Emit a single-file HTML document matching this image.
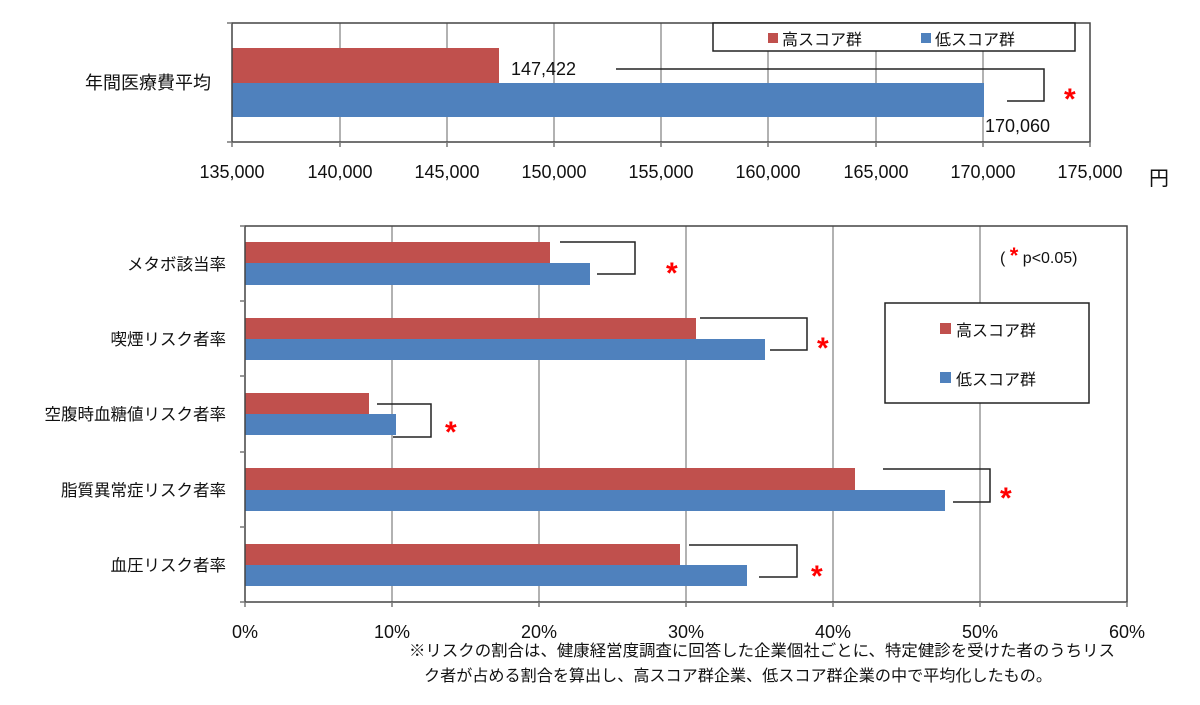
<!DOCTYPE html>
<html><head><meta charset="utf-8"><style>
body{margin:0;background:#fff;}
text{font-family:"Liberation Sans","Noto Sans CJK JP",sans-serif;fill:#111;}
.st{fill:#f00;font-weight:bold;}
</style></head><body>
<svg width="1200" height="700" viewBox="0 0 1200 700" xmlns="http://www.w3.org/2000/svg">
<!-- TOP CHART -->
<g stroke="#999" stroke-width="1.5">
<line x1="340" y1="23" x2="340" y2="142"/><line x1="447" y1="23" x2="447" y2="142"/><line x1="554" y1="23" x2="554" y2="142"/>
<line x1="661" y1="23" x2="661" y2="142"/><line x1="768" y1="23" x2="768" y2="142"/><line x1="876" y1="23" x2="876" y2="142"/><line x1="983" y1="23" x2="983" y2="142"/>
</g>
<rect x="232" y="48" width="267" height="35" fill="#c0504d"/>
<rect x="232" y="83" width="752" height="34" fill="#4f81bd"/>
<rect x="232" y="23" width="858" height="119" fill="none" stroke="#444" stroke-width="1.5"/>
<g stroke="#777" stroke-width="1.5">
<line x1="227" y1="23" x2="232" y2="23"/><line x1="227" y1="142" x2="232" y2="142"/>
<line x1="232" y1="142" x2="232" y2="147"/><line x1="340" y1="142" x2="340" y2="147"/><line x1="447" y1="142" x2="447" y2="147"/><line x1="554" y1="142" x2="554" y2="147"/><line x1="661" y1="142" x2="661" y2="147"/><line x1="768" y1="142" x2="768" y2="147"/><line x1="876" y1="142" x2="876" y2="147"/><line x1="983" y1="142" x2="983" y2="147"/><line x1="1090" y1="142" x2="1090" y2="147"/>
</g>
<rect x="713" y="23" width="362" height="28" fill="#fff" stroke="#222" stroke-width="1.5"/>
<rect x="768" y="33" width="10" height="10" fill="#c0504d"/><text x="782" y="45" font-size="16">高スコア群</text>
<rect x="921" y="33" width="10" height="10" fill="#4f81bd"/><text x="935" y="45" font-size="16">低スコア群</text>
<polyline points="616,69 1044,69 1044,101 1007,101" fill="none" stroke="#222" stroke-width="1.5"/>
<text x="1064" y="109" font-size="30" class="st">*</text>
<text x="511" y="75" font-size="18">147,422</text>
<text x="985" y="132" font-size="18">170,060</text>
<text x="211" y="89" font-size="18" text-anchor="end">年間医療費平均</text>
<g font-size="18" text-anchor="middle">
<text x="232" y="178">135,000</text><text x="340" y="178">140,000</text><text x="447" y="178">145,000</text><text x="554" y="178">150,000</text><text x="661" y="178">155,000</text><text x="768" y="178">160,000</text><text x="876" y="178">165,000</text><text x="983" y="178">170,000</text><text x="1090" y="178">175,000</text>
</g>
<text x="1149" y="185" font-size="20">円</text>

<!-- BOTTOM CHART -->
<g stroke="#999" stroke-width="1.5">
<line x1="392" y1="226" x2="392" y2="602"/><line x1="539" y1="226" x2="539" y2="602"/><line x1="686" y1="226" x2="686" y2="602"/><line x1="833" y1="226" x2="833" y2="602"/><line x1="980" y1="226" x2="980" y2="602"/>
</g>
<g>
<rect x="245" y="242" width="305" height="21" fill="#c0504d"/><rect x="245" y="263" width="345" height="22" fill="#4f81bd"/>
<rect x="245" y="318" width="451" height="21" fill="#c0504d"/><rect x="245" y="339" width="520" height="21" fill="#4f81bd"/>
<rect x="245" y="393" width="124" height="21" fill="#c0504d"/><rect x="245" y="414" width="151" height="21" fill="#4f81bd"/>
<rect x="245" y="468" width="610" height="22" fill="#c0504d"/><rect x="245" y="490" width="700" height="21" fill="#4f81bd"/>
<rect x="245" y="544" width="435" height="21" fill="#c0504d"/><rect x="245" y="565" width="502" height="21" fill="#4f81bd"/>
</g>
<rect x="245" y="226" width="882" height="376" fill="none" stroke="#444" stroke-width="1.5"/>
<g stroke="#777" stroke-width="1.5">
<line x1="240" y1="226" x2="245" y2="226"/><line x1="240" y1="301" x2="245" y2="301"/><line x1="240" y1="376" x2="245" y2="376"/><line x1="240" y1="452" x2="245" y2="452"/><line x1="240" y1="527" x2="245" y2="527"/><line x1="240" y1="602" x2="245" y2="602"/>
<line x1="245" y1="602" x2="245" y2="607"/><line x1="392" y1="602" x2="392" y2="607"/><line x1="539" y1="602" x2="539" y2="607"/><line x1="686" y1="602" x2="686" y2="607"/><line x1="833" y1="602" x2="833" y2="607"/><line x1="980" y1="602" x2="980" y2="607"/><line x1="1127" y1="602" x2="1127" y2="607"/>
</g>
<g fill="none" stroke="#222" stroke-width="1.5">
<polyline points="560,242 635,242 635,274 597,274"/>
<polyline points="700,318 807,318 807,350 770,350"/>
<polyline points="377,404 431,404 431,437 393,437"/>
<polyline points="883,469 990,469 990,502 953,502"/>
<polyline points="689,545 797,545 797,577 759,577"/>
</g>
<g font-size="30">
<text x="666" y="283" class="st">*</text>
<text x="817" y="358" class="st">*</text>
<text x="445" y="442" class="st">*</text>
<text x="1000" y="508" class="st">*</text>
<text x="811" y="586" class="st">*</text>
</g>
<text x="1000" y="263" font-size="16">( <tspan class="st" font-size="22">*</tspan> p&lt;0.05)</text>
<rect x="885" y="303" width="204" height="100" fill="#fff" stroke="#222" stroke-width="1.5"/>
<rect x="940" y="323" width="11" height="11" fill="#c0504d"/><text x="956" y="336" font-size="16">高スコア群</text>
<rect x="940" y="372" width="11" height="11" fill="#4f81bd"/><text x="956" y="385" font-size="16">低スコア群</text>
<g font-size="16.5" text-anchor="end">
<text x="226" y="270">メタボ該当率</text>
<text x="226" y="345">喫煙リスク者率</text>
<text x="226" y="420">空腹時血糖値リスク者率</text>
<text x="226" y="496">脂質異常症リスク者率</text>
<text x="226" y="571">血圧リスク者率</text>
</g>
<g font-size="18" text-anchor="middle">
<text x="245" y="638">0%</text><text x="392" y="638">10%</text><text x="539" y="638">20%</text><text x="686" y="638">30%</text><text x="833" y="638">40%</text><text x="980" y="638">50%</text><text x="1127" y="638">60%</text>
</g>
<text x="409" y="656" font-size="16" textLength="706" lengthAdjust="spacingAndGlyphs">※リスクの割合は、健康経営度調査に回答した企業個社ごとに、特定健診を受けた者のうちリス</text>
<text x="424" y="681" font-size="16" textLength="628" lengthAdjust="spacingAndGlyphs">ク者が占める割合を算出し、高スコア群企業、低スコア群企業の中で平均化したもの。</text>
</svg>
</body></html>
